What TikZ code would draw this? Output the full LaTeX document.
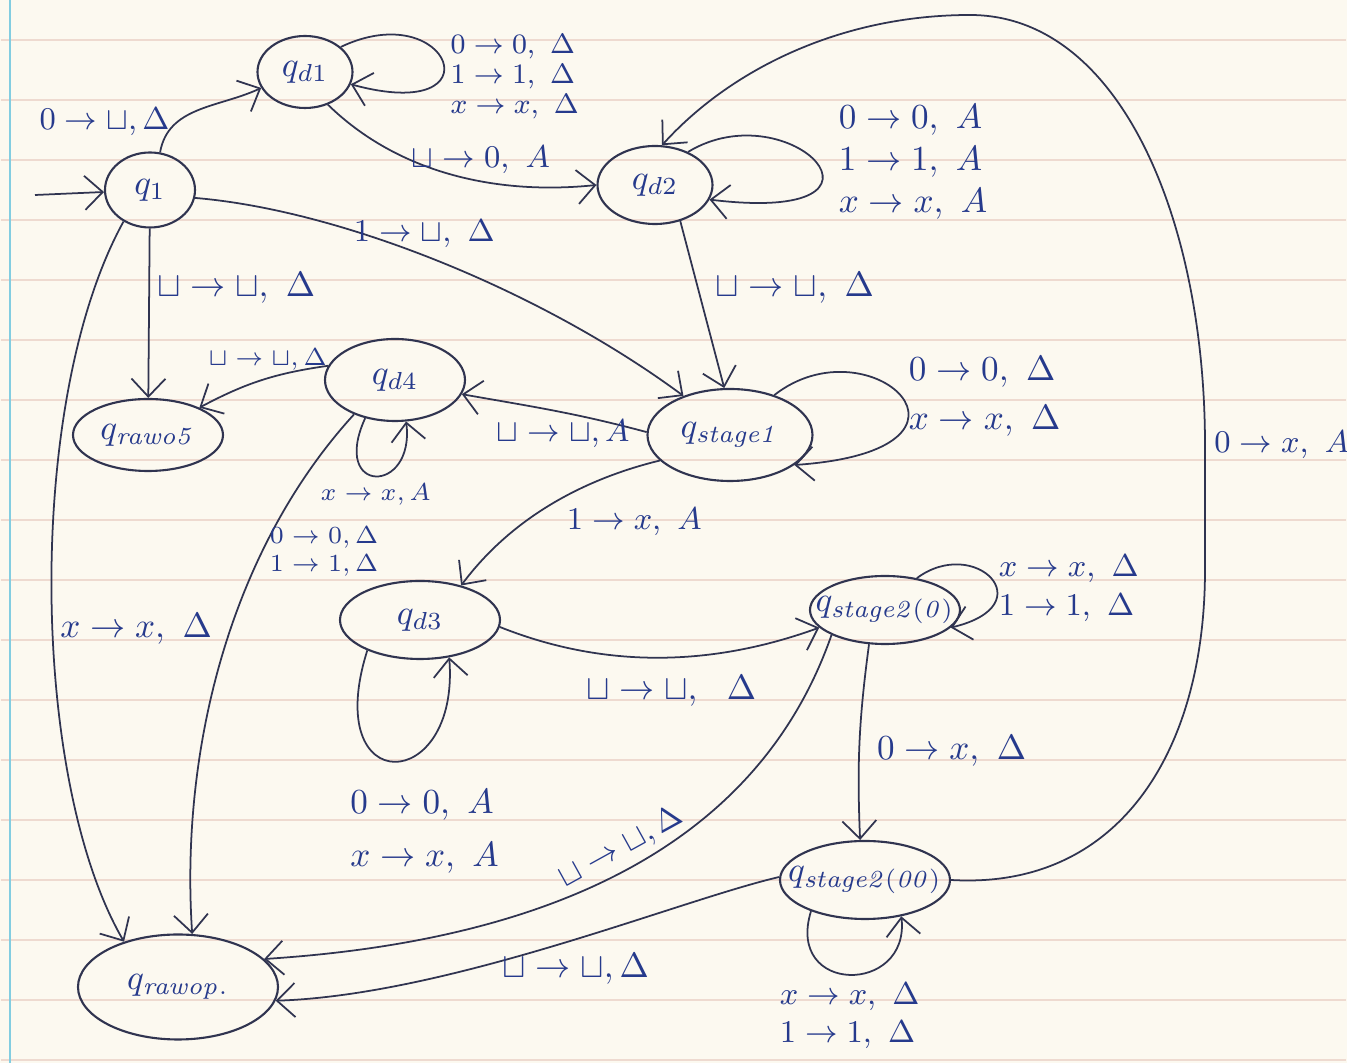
\documentclass[tikz,border=0pt]{standalone}
\usepackage{amsmath}
\usepackage{amssymb}
\usepackage{tikz}
\usetikzlibrary{shapes, arrows.meta, positioning}
\definecolor{ink}{RGB}{48,52,80}
\definecolor{blueink}{RGB}{38,58,140}
\definecolor{paper}{RGB}{252,249,240}
\definecolor{ruling}{RGB}{238,218,208}
\definecolor{margin}{RGB}{130,205,225}
\tikzstyle{tmstate} = [ellipse, draw=ink, line width=0.6pt, inner sep=0pt, text=blueink]
\tikzstyle{trans} = [draw=ink, line width=0.5pt, -{Straight Barb[length=1.8mm, width=3.4mm]}]
\tikzstyle{lbl} = [text=blueink, inner sep=2pt, align=left]

\begin{document}
\begin{tikzpicture}[node distance=2cm]
% lined paper
\useasboundingbox (0,0) rectangle (13.47,-10.63);
\fill[paper] (0,0) rectangle (13.47,-10.63);
\draw[ruling, line width=0.4pt, shift={(0,-0.4)}, xstep=20, ystep=0.6] (0.01,-10.3) grid (13.46,0.4);
\draw[margin, line width=0.8pt] (0.1,0) -- (0.1,-10.63);

% states
\node (q1) [tmstate, minimum width=0.9cm, minimum height=0.75cm] at (1.5,-1.9) {$q_1$};
\node (qd1) [tmstate, minimum width=0.95cm, minimum height=0.72cm, above of=q1, xshift=1.55cm, yshift=-0.82cm] {$q_{d1}$};
\node (qrej) [tmstate, minimum width=1.5cm, minimum height=0.72cm, below of=q1, xshift=-0.02cm, yshift=-0.45cm] {$q_{\mathit{rawo5}}$};
\node (qd4) [tmstate, minimum width=1.4cm, minimum height=0.82cm, right of=qrej, xshift=0.47cm, yshift=0.55cm] {$q_{d4}$};
\node (qd2) [tmstate, minimum width=1.15cm, minimum height=0.78cm, right of=qd1, xshift=1.5cm, yshift=-1.13cm] {$q_{d2}$};
\node (qstage1) [tmstate, minimum width=1.65cm, minimum height=0.92cm, below of=qd2, xshift=0.75cm, yshift=-0.5cm] {$q_{\mathit{stage1}}$};
\node (qd3) [tmstate, minimum width=1.6cm, minimum height=0.78cm, below of=qd4, xshift=0.25cm, yshift=-0.4cm] {$q_{d3}$};
\node (qs20) [tmstate, minimum width=1.5cm, minimum height=0.68cm, inner xsep=-0.2cm, below of=qstage1, xshift=1.55cm, yshift=0.25cm] {$q_{\mathit{stage2(0)}}$};
\node (qs200) [tmstate, minimum width=1.7cm, minimum height=0.78cm, inner xsep=-0.2cm, below of=qs20, xshift=-0.2cm, yshift=-0.7cm] {$q_{\mathit{stage2(00)}}$};
\node (qacc) [tmstate, minimum width=2cm, minimum height=1.05cm, below of=qrej, xshift=0.3cm, yshift=-3.52cm] {$q_{\mathit{rawop.}}$};
\coordinate (start) at (0.35,-1.95);

% transitions
\draw[trans] (start) -- (q1);
\draw[trans] (q1.75) to[out=80, in=205] node[lbl, left, pos=0.3, font=\small] {$0\to\sqcup,\Delta$} (qd1.200);
\draw[trans] (qd1.35) .. controls (4.5,0.05) and (5.0,-1.25) .. (qd1.-15) node[lbl, pos=0.5, right, yshift=-1.5mm, font=\footnotesize] {$0\to0,\ \Delta$\\[-1pt]$1\to1,\ \Delta$\\[-1pt]$x\to x,\ \Delta$};
\draw[trans] (qd1.-55) .. controls (4.0,-1.75) and (5.0,-1.95) .. (qd2.west) node[lbl, pos=0.6, above, font=\small] {$\sqcup\to0,\ A$};
\draw[trans] (q1.-10) .. controls (3.4,-2.1) and (5.4,-2.9) .. (qstage1.140) node[lbl, pos=0.47, above, font=\small] {$1\to\sqcup,\ \Delta$};
\draw[trans] (q1) -- (qrej) node[lbl, pos=0.35, right] {$\sqcup\to\sqcup,\ \Delta$};
\draw[trans] (q1.230) .. controls (0.25,-4.0) and (0.3,-7.8) .. (qacc.140) node[lbl, pos=0.55, right] {$x\to x,\ \Delta$};
\draw[trans] (qd2.45) .. controls (7.9,-0.9) and (9.2,-2.25) .. (qd2.-15) node[lbl, pos=0.5, right=1.5mm] {$0\to0,\ A$\\[0pt]$1\to1,\ A$\\[0pt]$x\to x,\ A$};
\draw[trans] (qd2.-55) -- (qstage1.97) node[lbl, pos=0.4, right=1mm] {$\sqcup\to\sqcup,\ \Delta$};
\draw[trans] (qs200.east) .. controls (11.2,-8.9) and (12.05,-7.5) .. (12.05,-5.7) -- (12.05,-4.45) node[lbl, right=0.5mm, inner sep=1pt, font=\small] {$0\to x,\ A$} .. controls (12.05,-2.2) and (11.2,-0.15) .. (9.7,-0.15) .. controls (8.4,-0.15) and (7.3,-0.7) .. (qd2.80);
\draw[trans] (qd4.168) to[bend right=10] node[lbl, above, pos=0.45, font=\scriptsize] {$\sqcup\to\sqcup,\Delta$} (qrej.28);
\draw[trans] (qd4.-128) .. controls (3.3,-4.95) and (4.15,-4.95) .. (qd4.-75) node[lbl, pos=0.5, below, font=\scriptsize] {$x\to x,A$};
\draw[trans] (qstage1.178) to[out=165, in=-10] node[lbl, below, pos=0.45, font=\small] {$\sqcup\to\sqcup,A$} (qd4.-12);
\draw[trans] (qstage1.42) .. controls (8.7,-3.2) and (10.1,-4.5) .. (qstage1.-25) node[lbl, pos=0.5, right] {$0\to0,\ \Delta$\\[2pt]$x\to x,\ \Delta$};
\draw[trans] (qd4.-140) .. controls (2.3,-5.5) and (1.8,-7.5) .. (qacc.75) node[lbl, pos=0.3, right, font=\scriptsize] {$0\to0,\Delta$\\$1\to1,\Delta$};
\draw[trans] (qstage1.200) .. controls (5.8,-4.8) and (5.1,-5.2) .. (qd3.40) node[lbl, pos=0.45, below right, font=\small] {$1\to x,\ A$};
\draw[trans] (qd3.-150) .. controls (3.2,-8.0) and (4.6,-7.95) .. (qd3.-52) node[lbl, pos=0.5, below=2mm, xshift=3mm] {$0\to0,\ A$\\[3pt]$x\to x,\ A$};
\draw[trans] (qd3.-5) .. controls (6.2,-6.75) and (7.3,-6.6) .. (qs20.195) node[lbl, pos=0.5, below=1mm] {$\sqcup\to\sqcup,\ \ \Delta$};
\draw[trans] (qs20.45) .. controls (9.75,-5.35) and (10.45,-6.05) .. (qs20.-15) node[lbl, pos=0.5, right, yshift=-1mm, font=\small] {$x\to x,\ \Delta$\\$1\to1,\ \Delta$};
\draw[trans] (qs20.-115) to[bend right=5] node[lbl, right=1mm, pos=0.55] {$0\to x,\ \Delta$} (qs200.97);
\draw[trans] (qs20.-155) .. controls (7.6,-8.4) and (5.6,-9.4) .. (qacc.18) node[lbl, pos=0.5, above, sloped, font=\small] {$\sqcup\to\sqcup,\Delta$};
\draw[trans] (qs200.178) .. controls (6.8,-9.0) and (4.5,-9.95) .. (qacc.-8) node[lbl, pos=0.5, below, xshift=2mm] {$\sqcup\to\sqcup,\Delta$};
\draw[trans] (qs200.-150) .. controls (7.85,-9.95) and (9.1,-9.95) .. (qs200.-45) node[lbl, pos=0.5, below, font=\small] {$x\to x,\ \Delta$\\$1\to1,\ \Delta$};
\end{tikzpicture}
\end{document}
